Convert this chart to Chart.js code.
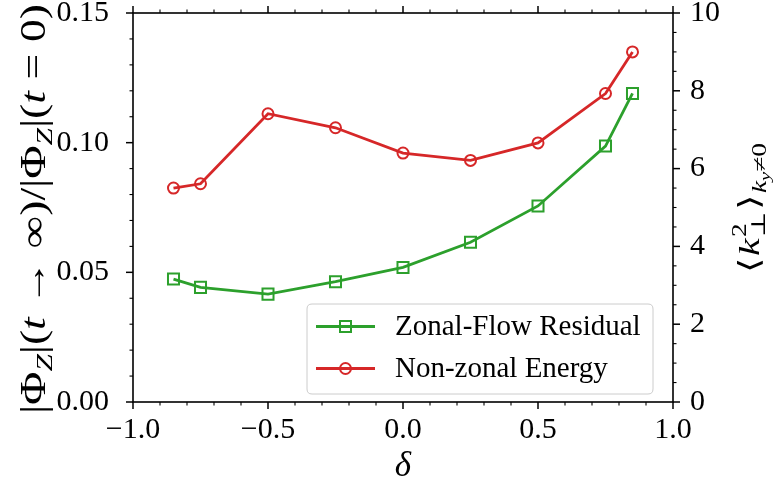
<!DOCTYPE html>
<html>
<head>
<meta charset="utf-8">
<script src="https://cdn.jsdelivr.net/npm/chart.js@4.4.1/dist/chart.umd.min.js"></script>
<style>
  html, body { margin: 0; padding: 0; background: #ffffff; }
  #wrap { width: 775px; height: 491px; position: relative; }
  canvas { display: block; }
</style>
</head>
<body>
<div id="wrap"><canvas id="c" width="775" height="491"></canvas></div>
<script>
// ---- data ----
const deltaValues = [-0.85, -0.75, -0.5, -0.25, 0.0, 0.25, 0.5, 0.75, 0.85];
const zonalFlowResidual = [0.0474, 0.0442, 0.0416, 0.0464, 0.0519, 0.0616, 0.0756, 0.0987, 0.119];
const nonZonalEnergy = [5.50, 5.61, 7.41, 7.05, 6.40, 6.21, 6.66, 7.93, 9.00];
const seriesLabels = ['Zonal-Flow Residual', 'Non-zonal Energy'];
const xTickValues = [-1.0, -0.5, 0.0, 0.5, 1.0];
const leftTickValues = [0.00, 0.05, 0.10, 0.15];
const rightTickValues = [0, 2, 4, 6, 8, 10];

const FONT = "'Liberation Serif', 'DejaVu Serif', serif";
const GREEN = '#2ca02c';
const RED = '#d62728';

function fmtX(v) { return (v < 0 ? '\u2212' : '') + Math.abs(v).toFixed(1); }

// rich text drawing (for math-like axis titles); target = desired span length
function drawRich(ctx, parts, cx, cy, rot, baseSize, target) {
  ctx.save();
  ctx.translate(cx, cy);
  ctx.rotate(rot);
  let total = 0;
  const widths = parts.map(p => {
    ctx.font = (p.italic ? 'italic ' : '') + p.size + 'px ' + FONT;
    return ctx.measureText(p.t).width;
  });
  parts.forEach((p, i) => { if (p.adv !== false) total += widths[i] + (p.gap || 0); });
  if (target) ctx.scale(target / total, 1);
  let x = -total / 2;
  const base = baseSize * 0.34;
  ctx.fillStyle = '#000';
  ctx.textBaseline = 'alphabetic';
  ctx.textAlign = 'left';
  parts.forEach((p, i) => {
    ctx.font = (p.italic ? 'italic ' : '') + p.size + 'px ' + FONT;
    ctx.fillText(p.t, x, base + (p.dy || 0));
    if (p.adv !== false) x += widths[i] + (p.gap || 0);
  });
  ctx.restore();
}

const decorPlugin = {
  id: 'decor',
  beforeDraw(chart) {
    const ctx = chart.ctx;
    ctx.save();
    ctx.fillStyle = '#ffffff';
    ctx.fillRect(0, 0, chart.width, chart.height);
    ctx.restore();
  },
  afterDraw(chart) {
    const ctx = chart.ctx;
    const a = chart.chartArea;
    const xs = chart.scales.x, ys = chart.scales.y, ys1 = chart.scales.y1;
    ctx.save();
    ctx.strokeStyle = '#000';
    ctx.lineCap = 'butt';
    const MAJ = 7, MIN = 3.5;
    function seg(x1, y1, x2, y2, w) {
      ctx.lineWidth = w;
      ctx.beginPath(); ctx.moveTo(x1, y1); ctx.lineTo(x2, y2); ctx.stroke();
    }
    for (let i = -10; i <= 10; i++) {
      const px = xs.getPixelForValue(i / 10);
      const major = (i % 5 === 0);
      const L = major ? MAJ : MIN;
      const w = major ? 1.5 : 1.1;
      seg(px, a.bottom, px, a.bottom + L, w);
      seg(px, a.top, px, a.top - L, w);
    }
    for (let i = 0; i <= 15; i++) {
      const py = ys.getPixelForValue(i / 100);
      const major = (i % 5 === 0);
      seg(a.left, py, a.left - (major ? MAJ : MIN), py, major ? 1.5 : 1.1);
    }
    for (let i = 0; i <= 20; i++) {
      const py = ys1.getPixelForValue(i / 2);
      const major = (i % 4 === 0);
      seg(a.right, py, a.right + (major ? MAJ : MIN), py, major ? 1.5 : 1.1);
    }
    ctx.lineWidth = 1.6;
    ctx.strokeRect(a.left, a.top, a.right - a.left, a.bottom - a.top);

    // legend
    const lx = 307, ly = 304, lw = 346, lh = 90, r = 5;
    ctx.beginPath();
    ctx.moveTo(lx + r, ly);
    ctx.lineTo(lx + lw - r, ly); ctx.quadraticCurveTo(lx + lw, ly, lx + lw, ly + r);
    ctx.lineTo(lx + lw, ly + lh - r); ctx.quadraticCurveTo(lx + lw, ly + lh, lx + lw - r, ly + lh);
    ctx.lineTo(lx + r, ly + lh); ctx.quadraticCurveTo(lx, ly + lh, lx, ly + lh - r);
    ctx.lineTo(lx, ly + r); ctx.quadraticCurveTo(lx, ly, lx + r, ly);
    ctx.closePath();
    ctx.fillStyle = 'rgba(255,255,255,0.8)';
    ctx.fill();
    ctx.lineWidth = 1;
    ctx.strokeStyle = '#cccccc';
    ctx.stroke();
    const rows = [326.5, 368.5];
    chart.data.datasets.forEach((ds, i) => {
      const y = rows[i];
      ctx.strokeStyle = ds.borderColor;
      ctx.lineWidth = 2.8;
      ctx.beginPath(); ctx.moveTo(316, y); ctx.lineTo(375, y); ctx.stroke();
      ctx.lineWidth = 2;
      ctx.beginPath();
      if (ds.pointStyle === 'rect') {
        ctx.rect(345.5 - 5.5, y - 5.5, 11, 11);
      } else {
        ctx.arc(345.5, y, 5.5, 0, Math.PI * 2);
      }
      ctx.stroke();
      ctx.fillStyle = '#000';
      ctx.font = '29px ' + FONT;
      ctx.textBaseline = 'middle';
      ctx.textAlign = 'left';
      ctx.fillText(ds.label, 395, y + 1);
    });

    // axis titles
    const S = 35, s = 24;
    drawRich(ctx, [
      {t: '|\u03A6', size: S},
      {t: 'Z', size: s, italic: true, dy: 7},
      {t: '|(', size: S},
      {t: 't', size: S, italic: true, gap: 9},
      {t: '\u2192', size: S, gap: 9},
      {t: '\u221E)/|\u03A6', size: S},
      {t: 'Z', size: s, italic: true, dy: 7},
      {t: '|(', size: S},
      {t: 't', size: S, italic: true, gap: 9},
      {t: '=', size: S, gap: 9},
      {t: '0)', size: S}
    ], 33, 209, -Math.PI / 2, S, 410);

    const R = 29, r2 = 20, r3 = 15;
    drawRich(ctx, [
      {t: '\u27E8', size: R, gap: 1},
      {t: 'k', size: R, italic: true, gap: 1},
      {t: '2', size: r2, dy: -13, adv: false},
      {t: '\u22A5', size: r2, dy: 6, gap: 1},
      {t: '\u27E9', size: R, gap: 1},
      {t: 'k', size: r2, italic: true, dy: 7},
      {t: 'y', size: r3, italic: true, dy: 11},
      {t: '\u22600', size: r2, dy: 7}
    ], 749, 208, -Math.PI / 2, R, 130);

    drawRich(ctx, [{t: '\u03B4', size: S, italic: true}], 403, 464, 0, S);
    ctx.restore();
  }
};

function noPadV(sc) { sc.paddingTop = 0; sc.paddingBottom = 0; }

const chart = new Chart(document.getElementById('c'), {
  type: 'line',
  data: {
    datasets: [
      {
        label: seriesLabels[0],
        data: deltaValues.map((d, i) => ({x: d, y: zonalFlowResidual[i]})),
        yAxisID: 'y',
        borderColor: GREEN,
        borderWidth: 2.8,
        pointStyle: 'rect',
        pointRadius: 7.8,
        pointBorderWidth: 2,
        pointBorderColor: GREEN,
        pointBackgroundColor: 'rgba(0,0,0,0)',
        tension: 0,
        fill: false
      },
      {
        label: seriesLabels[1],
        data: deltaValues.map((d, i) => ({x: d, y: nonZonalEnergy[i]})),
        yAxisID: 'y1',
        borderColor: RED,
        borderWidth: 2.8,
        pointStyle: 'circle',
        pointRadius: 5.5,
        pointBorderWidth: 2,
        pointBorderColor: RED,
        pointBackgroundColor: 'rgba(0,0,0,0)',
        tension: 0,
        fill: false
      }
    ]
  },
  options: {
    responsive: false,
    animation: false,
    events: [],
    layout: { padding: { top: 13, left: 0, right: 0, bottom: 0 } },
    plugins: { legend: { display: false }, tooltip: { enabled: false }, title: { display: false } },
    scales: {
      x: {
        type: 'linear', position: 'bottom', min: -1, max: 1,
        grid: { display: false }, border: { display: false },
        afterBuildTicks: (sc) => { sc.ticks = xTickValues.map(v => ({value: v})); },
        afterFit: (sc) => { sc.height = 89; sc.paddingLeft = 0; sc.paddingRight = 0; },
        ticks: {
          color: '#000', padding: 2, maxRotation: 0, autoSkip: false,
          font: { family: FONT, size: 30 },
          callback: (v) => fmtX(v)
        }
      },
      y: {
        type: 'linear', position: 'left', min: 0, max: 0.15,
        grid: { display: false }, border: { display: false },
        afterBuildTicks: (sc) => { sc.ticks = leftTickValues.map(v => ({value: v})); },
        afterFit: (sc) => { sc.width = 133; noPadV(sc); },
        ticks: {
          color: '#000', padding: 16, autoSkip: false,
          font: { family: FONT, size: 30, lineHeight: 0.8 },
          callback: (v) => Number(v).toFixed(2)
        }
      },
      y1: {
        type: 'linear', position: 'right', min: 0, max: 10,
        grid: { display: false }, border: { display: false },
        afterBuildTicks: (sc) => { sc.ticks = rightTickValues.map(v => ({value: v})); },
        afterFit: (sc) => { sc.width = 102; noPadV(sc); },
        ticks: {
          color: '#000', padding: 9, autoSkip: false,
          font: { family: FONT, size: 30, lineHeight: 0.8 },
          callback: (v) => String(v)
        }
      }
    }
  },
  plugins: [decorPlugin]
});
</script>
</body>
</html>
